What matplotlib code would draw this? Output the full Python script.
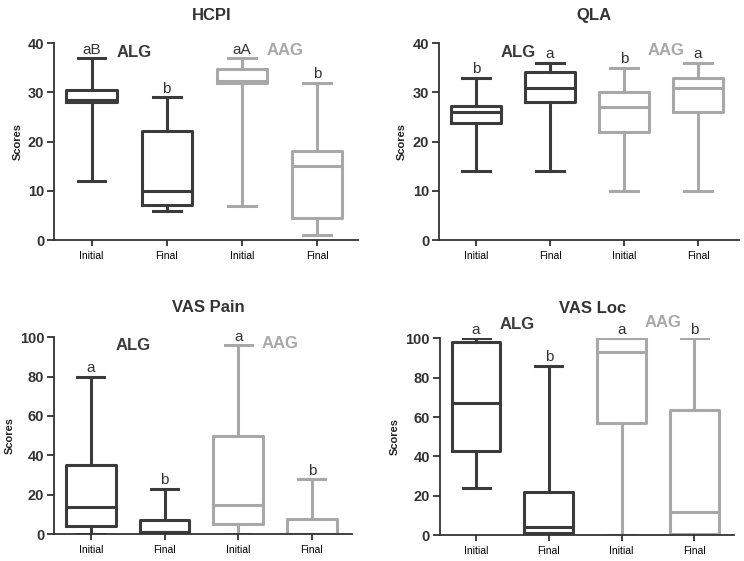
import matplotlib
matplotlib.use("Agg")
import matplotlib.pyplot as plt

plt.rcParams['font.family'] = ['Liberation Sans', 'DejaVu Sans']

# five-number summaries per panel: ALG Initial, ALG Final, AAG Initial, AAG Final
hcpi_low = [12, 6, 7, 1]
hcpi_q1 = [28, 7.2, 32, 4.5]
hcpi_med = [28.4, 10, 32.3, 15]
hcpi_q3 = [30.5, 22.2, 34.7, 18]
hcpi_high = [37, 29, 37, 32]
hcpi_letters = ['aB', 'b', 'aA', 'b']

qla_low = [14, 14, 10, 10]
qla_q1 = [23.7, 28, 22, 26]
qla_med = [26, 31, 27, 31]
qla_q3 = [27.2, 34.2, 30, 33]
qla_high = [33, 36, 35, 36]
qla_letters = ['b', 'a', 'b', 'a']

pain_low = [0, 0, 0, 0]
pain_q1 = [4, 1, 5, 0]
pain_med = [13.5, 1.2, 15, 0]
pain_q3 = [35, 7, 50, 7.5]
pain_high = [80, 23, 96, 28]
pain_letters = ['a', 'b', 'a', 'b']

loc_low = [24, 0, 0, 0]
loc_q1 = [43, 1, 57, 0.5]
loc_med = [67, 4, 93, 12]
loc_q3 = [98, 22, 100, 63.5]
loc_high = [100, 86, 100, 100]
loc_letters = ['a', 'b', 'a', 'b']

tick_labels = ['Initial', 'Final', 'Initial', 'Final']
dark = '#3b3b3b'
light = '#a8a8a8'
colors = [dark, dark, light, light]


def draw(ax, title, low, q1, med, q3, high, letters, ymax, grp_y, title_y):
    stats = []
    for i in range(4):
        stats.append(dict(whislo=low[i], q1=q1[i], med=med[i], q3=q3[i],
                          whishi=high[i], fliers=[]))
    for i in range(4):
        c = colors[i]
        ax.bxp([stats[i]], positions=[i + 1], widths=0.67, capwidths=0.37,
               showfliers=False,
               boxprops=dict(color=c, linewidth=2.2),
               whiskerprops=dict(color=c, linewidth=2.2),
               capprops=dict(color=c, linewidth=2.2),
               medianprops=dict(color=c, linewidth=2.2))
        ax.annotate(letters[i], (i + 1, high[i]), xytext=(0, 1),
                    textcoords='offset points', ha='center', va='bottom',
                    fontsize=11, color='#333333', annotation_clip=False)
    ax.text(1.57, grp_y, 'ALG', fontsize=12, fontweight='bold', color=dark,
            ha='center', va='center')
    ax.text(3.57, grp_y + ymax * 0.01, 'AAG', fontsize=12, fontweight='bold',
            color=light, ha='center', va='center')
    ax.text(2.6, title_y, title, fontsize=12, fontweight='bold', color='#333333',
            ha='center', va='center')
    ax.set_xlim(0.5, 4.55)
    ax.set_ylim(0, ymax)
    ax.set_xticks([1, 2, 3, 4])
    ax.set_xticklabels(tick_labels, fontsize=7.5)
    ax.set_ylabel('Scores', fontsize=8, fontweight='bold', color='#222222')
    ax.spines['top'].set_visible(False)
    ax.spines['right'].set_visible(False)
    ax.spines['left'].set_linewidth(1.3)
    ax.spines['bottom'].set_linewidth(1.3)
    ax.spines['left'].set_color('#333333')
    ax.spines['bottom'].set_color('#333333')
    ax.tick_params(axis='y', length=5, width=1.3, color='#333333', pad=2)
    ax.tick_params(axis='x', length=4, width=1.3, color='#333333', pad=4)


fig = plt.figure(figsize=(7.44, 5.61), dpi=100)
ax1 = fig.add_axes([0.0726, 0.572, 0.409, 0.351])
ax2 = fig.add_axes([0.590, 0.572, 0.403, 0.351])
ax3 = fig.add_axes([0.0726, 0.048, 0.401, 0.351])
ax4 = fig.add_axes([0.591, 0.046, 0.396, 0.351])

draw(ax1, 'HCPI', hcpi_low, hcpi_q1, hcpi_med, hcpi_q3, hcpi_high, hcpi_letters,
     40, 38.2, 45.7)
draw(ax2, 'QLA', qla_low, qla_q1, qla_med, qla_q3, qla_high, qla_letters,
     40, 38.2, 45.7)
draw(ax3, 'VAS Pain', pain_low, pain_q1, pain_med, pain_q3, pain_high, pain_letters,
     100, 96, 115)
draw(ax4, 'VAS Loc', loc_low, loc_q1, loc_med, loc_q3, loc_high, loc_letters,
     100, 107, 115)
ax1.set_yticks([0, 10, 20, 30, 40])
ax2.set_yticks([0, 10, 20, 30, 40])
for ax in (ax1, ax2, ax3, ax4):
    for lab in ax.get_yticklabels():
        lab.set_fontweight('bold')
        lab.set_fontsize(10.5)
        lab.set_color('#333333')

fig.savefig('out.png', dpi=100)
